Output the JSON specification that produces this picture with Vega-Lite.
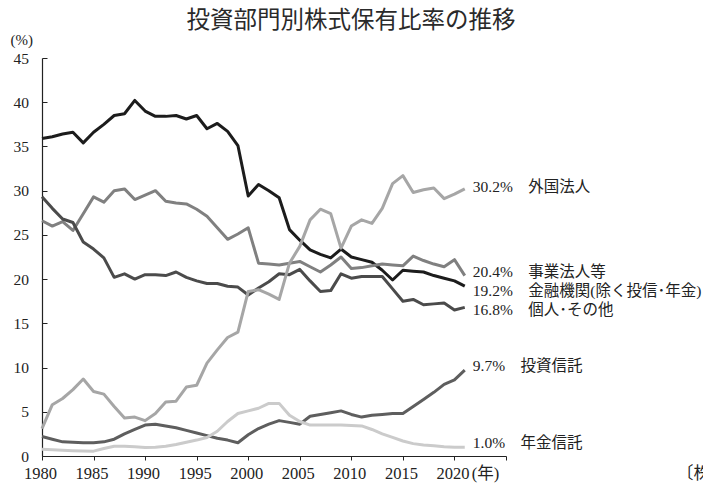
{
  "$schema": "https://vega.github.io/schema/vega-lite/v6.json",
  "width": 464,
  "height": 398,
  "autosize": {"type": "none"},
  "padding": {"left": 42, "top": 58, "right": 197, "bottom": 27},
  "background": "white",
  "config": {"view": {"stroke": null}},
  "title": {
    "text": "投資部門別株式保有比率の推移",
    "anchor": "middle",
    "dx": 77,
    "offset": 0,
    "fontSize": 23.5,
    "font": "Noto Sans CJK JP",
    "fontWeight": "normal",
    "color": "#2a2a2a"
  },
  "data": {
    "values": [
      {"series": "金融機関(除く投信･年金)", "year": 1980, "value": 35.9},
      {"series": "金融機関(除く投信･年金)", "year": 1981, "value": 36.1},
      {"series": "金融機関(除く投信･年金)", "year": 1982, "value": 36.4},
      {"series": "金融機関(除く投信･年金)", "year": 1983, "value": 36.6},
      {"series": "金融機関(除く投信･年金)", "year": 1984, "value": 35.4},
      {"series": "金融機関(除く投信･年金)", "year": 1985, "value": 36.6},
      {"series": "金融機関(除く投信･年金)", "year": 1986, "value": 37.5},
      {"series": "金融機関(除く投信･年金)", "year": 1987, "value": 38.5},
      {"series": "金融機関(除く投信･年金)", "year": 1988, "value": 38.7},
      {"series": "金融機関(除く投信･年金)", "year": 1989, "value": 40.2},
      {"series": "金融機関(除く投信･年金)", "year": 1990, "value": 39.0},
      {"series": "金融機関(除く投信･年金)", "year": 1991, "value": 38.4},
      {"series": "金融機関(除く投信･年金)", "year": 1992, "value": 38.4},
      {"series": "金融機関(除く投信･年金)", "year": 1993, "value": 38.5},
      {"series": "金融機関(除く投信･年金)", "year": 1994, "value": 38.1},
      {"series": "金融機関(除く投信･年金)", "year": 1995, "value": 38.5},
      {"series": "金融機関(除く投信･年金)", "year": 1996, "value": 37.0},
      {"series": "金融機関(除く投信･年金)", "year": 1997, "value": 37.6},
      {"series": "金融機関(除く投信･年金)", "year": 1998, "value": 36.7},
      {"series": "金融機関(除く投信･年金)", "year": 1999, "value": 35.1},
      {"series": "金融機関(除く投信･年金)", "year": 2000, "value": 29.4},
      {"series": "金融機関(除く投信･年金)", "year": 2001, "value": 30.7},
      {"series": "金融機関(除く投信･年金)", "year": 2002, "value": 30.0},
      {"series": "金融機関(除く投信･年金)", "year": 2003, "value": 29.2},
      {"series": "金融機関(除く投信･年金)", "year": 2004, "value": 25.6},
      {"series": "金融機関(除く投信･年金)", "year": 2005, "value": 24.4},
      {"series": "金融機関(除く投信･年金)", "year": 2006, "value": 23.3},
      {"series": "金融機関(除く投信･年金)", "year": 2007, "value": 22.8},
      {"series": "金融機関(除く投信･年金)", "year": 2008, "value": 22.4},
      {"series": "金融機関(除く投信･年金)", "year": 2009, "value": 23.4},
      {"series": "金融機関(除く投信･年金)", "year": 2010, "value": 22.5},
      {"series": "金融機関(除く投信･年金)", "year": 2011, "value": 22.2},
      {"series": "金融機関(除く投信･年金)", "year": 2012, "value": 21.9},
      {"series": "金融機関(除く投信･年金)", "year": 2013, "value": 21.0},
      {"series": "金融機関(除く投信･年金)", "year": 2014, "value": 19.9},
      {"series": "金融機関(除く投信･年金)", "year": 2015, "value": 21.0},
      {"series": "金融機関(除く投信･年金)", "year": 2016, "value": 20.9},
      {"series": "金融機関(除く投信･年金)", "year": 2017, "value": 20.8},
      {"series": "金融機関(除く投信･年金)", "year": 2018, "value": 20.4},
      {"series": "金融機関(除く投信･年金)", "year": 2019, "value": 20.1},
      {"series": "金融機関(除く投信･年金)", "year": 2020, "value": 19.8},
      {"series": "金融機関(除く投信･年金)", "year": 2021, "value": 19.2},

      {"series": "事業法人等", "year": 1980, "value": 26.6},
      {"series": "事業法人等", "year": 1981, "value": 26.0},
      {"series": "事業法人等", "year": 1982, "value": 26.5},
      {"series": "事業法人等", "year": 1983, "value": 25.5},
      {"series": "事業法人等", "year": 1984, "value": 27.4},
      {"series": "事業法人等", "year": 1985, "value": 29.3},
      {"series": "事業法人等", "year": 1986, "value": 28.7},
      {"series": "事業法人等", "year": 1987, "value": 30.0},
      {"series": "事業法人等", "year": 1988, "value": 30.2},
      {"series": "事業法人等", "year": 1989, "value": 29.0},
      {"series": "事業法人等", "year": 1990, "value": 29.5},
      {"series": "事業法人等", "year": 1991, "value": 30.0},
      {"series": "事業法人等", "year": 1992, "value": 28.8},
      {"series": "事業法人等", "year": 1993, "value": 28.6},
      {"series": "事業法人等", "year": 1994, "value": 28.5},
      {"series": "事業法人等", "year": 1995, "value": 27.9},
      {"series": "事業法人等", "year": 1996, "value": 27.1},
      {"series": "事業法人等", "year": 1997, "value": 25.8},
      {"series": "事業法人等", "year": 1998, "value": 24.5},
      {"series": "事業法人等", "year": 1999, "value": 25.1},
      {"series": "事業法人等", "year": 2000, "value": 25.8},
      {"series": "事業法人等", "year": 2001, "value": 21.8},
      {"series": "事業法人等", "year": 2002, "value": 21.7},
      {"series": "事業法人等", "year": 2003, "value": 21.6},
      {"series": "事業法人等", "year": 2004, "value": 21.8},
      {"series": "事業法人等", "year": 2005, "value": 22.0},
      {"series": "事業法人等", "year": 2006, "value": 21.4},
      {"series": "事業法人等", "year": 2007, "value": 20.8},
      {"series": "事業法人等", "year": 2008, "value": 21.6},
      {"series": "事業法人等", "year": 2009, "value": 22.5},
      {"series": "事業法人等", "year": 2010, "value": 21.2},
      {"series": "事業法人等", "year": 2011, "value": 21.3},
      {"series": "事業法人等", "year": 2012, "value": 21.5},
      {"series": "事業法人等", "year": 2013, "value": 21.7},
      {"series": "事業法人等", "year": 2014, "value": 21.6},
      {"series": "事業法人等", "year": 2015, "value": 21.5},
      {"series": "事業法人等", "year": 2016, "value": 22.6},
      {"series": "事業法人等", "year": 2017, "value": 22.1},
      {"series": "事業法人等", "year": 2018, "value": 21.7},
      {"series": "事業法人等", "year": 2019, "value": 21.4},
      {"series": "事業法人等", "year": 2020, "value": 22.2},
      {"series": "事業法人等", "year": 2021, "value": 20.4},

      {"series": "個人･その他", "year": 1980, "value": 29.3},
      {"series": "個人･その他", "year": 1981, "value": 28.0},
      {"series": "個人･その他", "year": 1982, "value": 26.8},
      {"series": "個人･その他", "year": 1983, "value": 26.4},
      {"series": "個人･その他", "year": 1984, "value": 24.2},
      {"series": "個人･その他", "year": 1985, "value": 23.4},
      {"series": "個人･その他", "year": 1986, "value": 22.4},
      {"series": "個人･その他", "year": 1987, "value": 20.2},
      {"series": "個人･その他", "year": 1988, "value": 20.6},
      {"series": "個人･その他", "year": 1989, "value": 20.0},
      {"series": "個人･その他", "year": 1990, "value": 20.5},
      {"series": "個人･その他", "year": 1991, "value": 20.5},
      {"series": "個人･その他", "year": 1992, "value": 20.4},
      {"series": "個人･その他", "year": 1993, "value": 20.8},
      {"series": "個人･その他", "year": 1994, "value": 20.2},
      {"series": "個人･その他", "year": 1995, "value": 19.8},
      {"series": "個人･その他", "year": 1996, "value": 19.5},
      {"series": "個人･その他", "year": 1997, "value": 19.5},
      {"series": "個人･その他", "year": 1998, "value": 19.2},
      {"series": "個人･その他", "year": 1999, "value": 19.1},
      {"series": "個人･その他", "year": 2000, "value": 18.2},
      {"series": "個人･その他", "year": 2001, "value": 19.0},
      {"series": "個人･その他", "year": 2002, "value": 19.7},
      {"series": "個人･その他", "year": 2003, "value": 20.6},
      {"series": "個人･その他", "year": 2004, "value": 20.5},
      {"series": "個人･その他", "year": 2005, "value": 21.1},
      {"series": "個人･その他", "year": 2006, "value": 19.8},
      {"series": "個人･その他", "year": 2007, "value": 18.6},
      {"series": "個人･その他", "year": 2008, "value": 18.7},
      {"series": "個人･その他", "year": 2009, "value": 20.6},
      {"series": "個人･その他", "year": 2010, "value": 20.1},
      {"series": "個人･その他", "year": 2011, "value": 20.3},
      {"series": "個人･その他", "year": 2012, "value": 20.3},
      {"series": "個人･その他", "year": 2013, "value": 20.3},
      {"series": "個人･その他", "year": 2014, "value": 18.9},
      {"series": "個人･その他", "year": 2015, "value": 17.5},
      {"series": "個人･その他", "year": 2016, "value": 17.7},
      {"series": "個人･その他", "year": 2017, "value": 17.1},
      {"series": "個人･その他", "year": 2018, "value": 17.2},
      {"series": "個人･その他", "year": 2019, "value": 17.3},
      {"series": "個人･その他", "year": 2020, "value": 16.5},
      {"series": "個人･その他", "year": 2021, "value": 16.8},

      {"series": "外国法人", "year": 1980, "value": 3.1},
      {"series": "外国法人", "year": 1981, "value": 5.8},
      {"series": "外国法人", "year": 1982, "value": 6.5},
      {"series": "外国法人", "year": 1983, "value": 7.5},
      {"series": "外国法人", "year": 1984, "value": 8.7},
      {"series": "外国法人", "year": 1985, "value": 7.3},
      {"series": "外国法人", "year": 1986, "value": 7.0},
      {"series": "外国法人", "year": 1987, "value": 5.6},
      {"series": "外国法人", "year": 1988, "value": 4.3},
      {"series": "外国法人", "year": 1989, "value": 4.4},
      {"series": "外国法人", "year": 1990, "value": 4.0},
      {"series": "外国法人", "year": 1991, "value": 4.8},
      {"series": "外国法人", "year": 1992, "value": 6.1},
      {"series": "外国法人", "year": 1993, "value": 6.2},
      {"series": "外国法人", "year": 1994, "value": 7.8},
      {"series": "外国法人", "year": 1995, "value": 8.0},
      {"series": "外国法人", "year": 1996, "value": 10.5},
      {"series": "外国法人", "year": 1997, "value": 12.0},
      {"series": "外国法人", "year": 1998, "value": 13.4},
      {"series": "外国法人", "year": 1999, "value": 14.0},
      {"series": "外国法人", "year": 2000, "value": 18.6},
      {"series": "外国法人", "year": 2001, "value": 18.8},
      {"series": "外国法人", "year": 2002, "value": 18.3},
      {"series": "外国法人", "year": 2003, "value": 17.7},
      {"series": "外国法人", "year": 2004, "value": 21.8},
      {"series": "外国法人", "year": 2005, "value": 23.7},
      {"series": "外国法人", "year": 2006, "value": 26.7},
      {"series": "外国法人", "year": 2007, "value": 27.9},
      {"series": "外国法人", "year": 2008, "value": 27.4},
      {"series": "外国法人", "year": 2009, "value": 23.5},
      {"series": "外国法人", "year": 2010, "value": 26.0},
      {"series": "外国法人", "year": 2011, "value": 26.7},
      {"series": "外国法人", "year": 2012, "value": 26.3},
      {"series": "外国法人", "year": 2013, "value": 28.0},
      {"series": "外国法人", "year": 2014, "value": 30.8},
      {"series": "外国法人", "year": 2015, "value": 31.7},
      {"series": "外国法人", "year": 2016, "value": 29.8},
      {"series": "外国法人", "year": 2017, "value": 30.1},
      {"series": "外国法人", "year": 2018, "value": 30.3},
      {"series": "外国法人", "year": 2019, "value": 29.1},
      {"series": "外国法人", "year": 2020, "value": 29.6},
      {"series": "外国法人", "year": 2021, "value": 30.2},

      {"series": "投資信託", "year": 1980, "value": 2.2},
      {"series": "投資信託", "year": 1981, "value": 1.9},
      {"series": "投資信託", "year": 1982, "value": 1.6},
      {"series": "投資信託", "year": 1983, "value": 1.55},
      {"series": "投資信託", "year": 1984, "value": 1.5},
      {"series": "投資信託", "year": 1985, "value": 1.5},
      {"series": "投資信託", "year": 1986, "value": 1.6},
      {"series": "投資信託", "year": 1987, "value": 1.9},
      {"series": "投資信託", "year": 1988, "value": 2.5},
      {"series": "投資信託", "year": 1989, "value": 3.0},
      {"series": "投資信託", "year": 1990, "value": 3.5},
      {"series": "投資信託", "year": 1991, "value": 3.6},
      {"series": "投資信託", "year": 1992, "value": 3.4},
      {"series": "投資信託", "year": 1993, "value": 3.2},
      {"series": "投資信託", "year": 1994, "value": 2.9},
      {"series": "投資信託", "year": 1995, "value": 2.6},
      {"series": "投資信託", "year": 1996, "value": 2.3},
      {"series": "投資信託", "year": 1997, "value": 2.0},
      {"series": "投資信託", "year": 1998, "value": 1.8},
      {"series": "投資信託", "year": 1999, "value": 1.5},
      {"series": "投資信託", "year": 2000, "value": 2.4},
      {"series": "投資信託", "year": 2001, "value": 3.1},
      {"series": "投資信託", "year": 2002, "value": 3.6},
      {"series": "投資信託", "year": 2003, "value": 4.0},
      {"series": "投資信託", "year": 2004, "value": 3.8},
      {"series": "投資信託", "year": 2005, "value": 3.6},
      {"series": "投資信託", "year": 2006, "value": 4.5},
      {"series": "投資信託", "year": 2007, "value": 4.7},
      {"series": "投資信託", "year": 2008, "value": 4.9},
      {"series": "投資信託", "year": 2009, "value": 5.1},
      {"series": "投資信託", "year": 2010, "value": 4.7},
      {"series": "投資信託", "year": 2011, "value": 4.4},
      {"series": "投資信託", "year": 2012, "value": 4.6},
      {"series": "投資信託", "year": 2013, "value": 4.7},
      {"series": "投資信託", "year": 2014, "value": 4.8},
      {"series": "投資信託", "year": 2015, "value": 4.8},
      {"series": "投資信託", "year": 2016, "value": 5.6},
      {"series": "投資信託", "year": 2017, "value": 6.4},
      {"series": "投資信託", "year": 2018, "value": 7.2},
      {"series": "投資信託", "year": 2019, "value": 8.1},
      {"series": "投資信託", "year": 2020, "value": 8.6},
      {"series": "投資信託", "year": 2021, "value": 9.7},

      {"series": "年金信託", "year": 1980, "value": 0.75},
      {"series": "年金信託", "year": 1981, "value": 0.7},
      {"series": "年金信託", "year": 1982, "value": 0.65},
      {"series": "年金信託", "year": 1983, "value": 0.6},
      {"series": "年金信託", "year": 1984, "value": 0.57},
      {"series": "年金信託", "year": 1985, "value": 0.55},
      {"series": "年金信託", "year": 1986, "value": 0.85},
      {"series": "年金信託", "year": 1987, "value": 1.1},
      {"series": "年金信託", "year": 1988, "value": 1.1},
      {"series": "年金信託", "year": 1989, "value": 1.05},
      {"series": "年金信託", "year": 1990, "value": 0.95},
      {"series": "年金信託", "year": 1991, "value": 1.0},
      {"series": "年金信託", "year": 1992, "value": 1.1},
      {"series": "年金信託", "year": 1993, "value": 1.3},
      {"series": "年金信託", "year": 1994, "value": 1.55},
      {"series": "年金信託", "year": 1995, "value": 1.8},
      {"series": "年金信託", "year": 1996, "value": 2.1},
      {"series": "年金信託", "year": 1997, "value": 2.8},
      {"series": "年金信託", "year": 1998, "value": 3.9},
      {"series": "年金信託", "year": 1999, "value": 4.8},
      {"series": "年金信託", "year": 2000, "value": 5.1},
      {"series": "年金信託", "year": 2001, "value": 5.4},
      {"series": "年金信託", "year": 2002, "value": 5.95},
      {"series": "年金信託", "year": 2003, "value": 5.95},
      {"series": "年金信託", "year": 2004, "value": 4.6},
      {"series": "年金信託", "year": 2005, "value": 3.9},
      {"series": "年金信託", "year": 2006, "value": 3.5},
      {"series": "年金信託", "year": 2007, "value": 3.5},
      {"series": "年金信託", "year": 2008, "value": 3.5},
      {"series": "年金信託", "year": 2009, "value": 3.5},
      {"series": "年金信託", "year": 2010, "value": 3.45},
      {"series": "年金信託", "year": 2011, "value": 3.4},
      {"series": "年金信託", "year": 2012, "value": 3.0},
      {"series": "年金信託", "year": 2013, "value": 2.5},
      {"series": "年金信託", "year": 2014, "value": 2.1},
      {"series": "年金信託", "year": 2015, "value": 1.7},
      {"series": "年金信託", "year": 2016, "value": 1.4},
      {"series": "年金信託", "year": 2017, "value": 1.25},
      {"series": "年金信託", "year": 2018, "value": 1.15},
      {"series": "年金信託", "year": 2019, "value": 1.05},
      {"series": "年金信託", "year": 2020, "value": 1.0},
      {"series": "年金信託", "year": 2021, "value": 1.0}
    ]
  },
  "encoding": {
    "x": {
      "field": "year",
      "type": "quantitative",
      "scale": {"domain": [1980, 2025], "nice": false, "zero": false},
      "axis": {
        "values": [1980, 1985, 1990, 1995, 2000, 2005, 2010, 2015, 2020, 2025],
        "format": "d",
        "labelExpr": "datum.value == 2025 ? '(年)' : datum.label",
        "labelOffset": {"condition": {"test": "datum.value == 2025", "value": -21}, "value": -2},
        "labelOverlap": false,
        "labelFlush": false,
        "labelFont": "Liberation Serif, Noto Sans CJK JP",
        "labelFontSize": 16.5,
        "labelColor": "#222",
        "labelPadding": 5,
        "tickSize": 4,
        "tickColor": "#222",
        "domainColor": "#222",
        "domainWidth": 1.2,
        "grid": false,
        "title": "〔株式分布状況調査〕",
        "titleX": 634,
        "titleY": 17,
        "titleAlign": "left",
        "titleBaseline": "middle",
        "titleFont": "Noto Sans CJK JP",
        "titleFontSize": 17,
        "titleFontWeight": "normal",
        "titleColor": "#222"
      }
    },
    "y": {
      "field": "value",
      "type": "quantitative",
      "scale": {"domain": [0, 45], "nice": false},
      "axis": {
        "values": [0, 5, 10, 15, 20, 25, 30, 35, 40, 45],
        "labelFont": "Liberation Serif",
        "labelFontSize": 15.5,
        "labelColor": "#222",
        "labelPadding": 18.5,
        "tickSize": -5,
        "tickColor": "#222",
        "domainColor": "#222",
        "domainWidth": 1.2,
        "grid": false,
        "title": "(%)",
        "titleAngle": 0,
        "titleX": -32,
        "titleY": -19,
        "titleAlign": "left",
        "titleBaseline": "middle",
        "titleFont": "Liberation Serif",
        "titleFontSize": 15,
        "titleFontWeight": "normal",
        "titleColor": "#222"
      }
    }
  },
  "layer": [
    {
      "mark": {"type": "line", "strokeWidth": 3, "strokeJoin": "round"},
      "encoding": {
        "color": {
          "field": "series",
          "type": "nominal",
          "legend": null,
          "scale": {
            "domain": ["年金信託", "外国法人", "事業法人等", "投資信託", "個人･その他", "金融機関(除く投信･年金)"],
            "range": ["#cbcbcb", "#a6a6a6", "#808080", "#5e5e5e", "#4b4b4b", "#1c1c1c"]
          }
        }
      }
    },
    {
      "transform": [
        {"filter": "datum.year == 2021 && (datum.series == '事業法人等' || datum.series == '投資信託' || datum.series == '年金信託')"},
        {"calculate": "format(datum.value, '.1f') + '%　' + datum.series", "as": "label"}
      ],
      "mark": {"type": "text", "align": "left", "baseline": "middle", "dx": 8, "dy": -4, "font": "Liberation Serif, Noto Sans CJK JP", "fontSize": 15.5, "color": "#222"},
      "encoding": {"text": {"field": "label"}}
    },
    {
      "transform": [
        {"filter": "datum.year == 2021 && datum.series == '外国法人'"},
        {"calculate": "format(datum.value, '.1f') + '%　' + datum.series", "as": "label"}
      ],
      "mark": {"type": "text", "align": "left", "baseline": "middle", "dx": 8, "dy": -1.5, "font": "Liberation Serif, Noto Sans CJK JP", "fontSize": 15.5, "color": "#222"},
      "encoding": {"text": {"field": "label"}}
    },
    {
      "transform": [
        {"filter": "datum.year == 2021 && datum.series == '金融機関(除く投信･年金)'"},
        {"calculate": "format(datum.value, '.1f') + '%　' + datum.series", "as": "label"}
      ],
      "mark": {"type": "text", "align": "left", "baseline": "middle", "dx": 8, "dy": 5, "font": "Liberation Serif, Noto Sans CJK JP", "fontSize": 15.5, "color": "#222"},
      "encoding": {"text": {"field": "label"}}
    },
    {
      "transform": [
        {"filter": "datum.year == 2021 && datum.series == '個人･その他'"},
        {"calculate": "format(datum.value, '.1f') + '%　' + datum.series", "as": "label"}
      ],
      "mark": {"type": "text", "align": "left", "baseline": "middle", "dx": 8, "dy": 3, "font": "Liberation Serif, Noto Sans CJK JP", "fontSize": 15.5, "color": "#222"},
      "encoding": {"text": {"field": "label"}}
    }
  ]
}
